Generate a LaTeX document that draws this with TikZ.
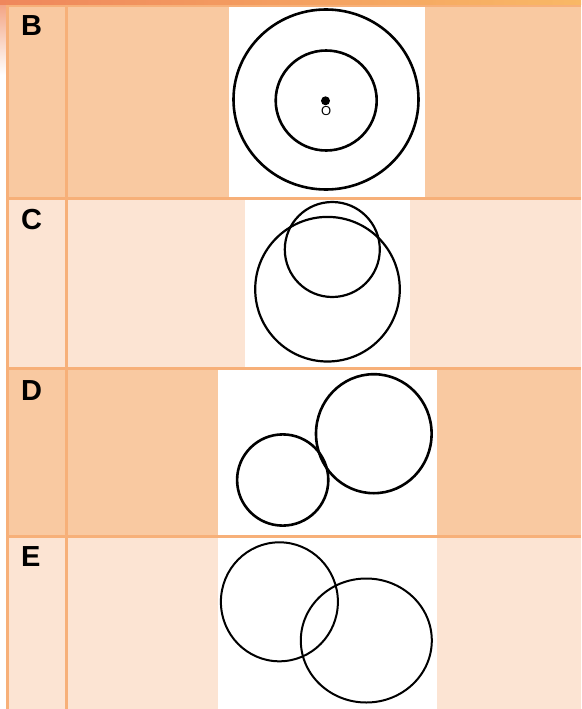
\documentclass[tikz,border=0pt]{standalone}
\usepackage{fontspec}
\setmainfont{Liberation Sans}
\definecolor{rowdark}{HTML}{F9C9A1}
\definecolor{rowlight}{HTML}{FCE4D3}
\definecolor{gridline}{HTML}{F7B079}
\definecolor{bandL}{HTML}{EF875C}
\definecolor{bandR}{HTML}{F9B866}
\begin{document}
\begin{tikzpicture}[x=1pt,y=-1pt,
  grid/.style={draw=gridline,line width=3pt},
  imgbox/.style={fill=white},
  ring/.style={draw=black,line width=#1},
  rowlabel/.style={anchor=base west,inner sep=0pt,font=\fontsize{29}{29}\selectfont\bfseries}]
\useasboundingbox (0,0) rectangle (581,709);
\fill[white] (0,0) rectangle (581,709);
% left fade strip
\shade[top color=bandL!80, bottom color=white] (0,0) rectangle (6,75);
% row fills
\fill[rowdark] (7,5) rectangle (581,198);
\fill[rowlight] (7,198) rectangle (581,368);
\fill[rowdark] (7,368) rectangle (581,537);
\fill[rowlight] (7,537) rectangle (581,709);
% image boxes
\fill[imgbox] (229,7) rectangle (425,197);
\fill[imgbox] (245,200) rectangle (410,367);
\fill[imgbox] (218,370) rectangle (437,535);
\fill[imgbox] (218,538) rectangle (437,709);
% grid
\draw[grid] (7.5,5) -- (7.5,709);
\draw[grid] (66.5,5) -- (66.5,709);
\draw[grid] (6,5.5) -- (581,5.5);
\draw[grid] (6,198.3) -- (581,198.3);
\draw[grid] (6,368.3) -- (581,368.3);
\draw[grid] (6,536.5) -- (581,536.5);
% top band
\shade[left color=bandL, right color=bandR] (0,0) rectangle (581,4.2);
% labels
\node[rowlabel] (lb) at (21,35.7) {B};
\node[rowlabel] (lc) at (21,229.5) {C};
\node[rowlabel] (ld) at (21,400) {D};
\node[rowlabel] (le) at (21,566.5) {E};
% B: concentric circles
\draw[ring=2.6pt] (326,99.5) ellipse [x radius=92.5pt, y radius=90pt];
\draw[ring=2.6pt] (326.2,100.5) ellipse [x radius=50.5pt, y radius=50pt];
\fill[black] (325.5,100.8) circle [radius=4.5pt];
\node[inner sep=0pt,text=black,font=\fontsize{13}{13}\selectfont] (o) at (326.3,111.3) {O};
% C
\draw[ring=2.2pt] (332.3,249.5) circle [radius=47.5pt];
\draw[ring=2.2pt] (327.5,289.2) circle [radius=72.3pt];
% D
\draw[ring=2.6pt] (282.7,480) circle [radius=45.6pt];
\draw[ring=2.6pt] (373.8,433.7) ellipse [x radius=57.8pt, y radius=59.5pt];
% E
\draw[ring=2pt] (279.4,601.8) ellipse [x radius=58.5pt, y radius=59.5pt];
\draw[ring=2pt] (366.3,640.5) ellipse [x radius=65.5pt, y radius=62pt];
\end{tikzpicture}
\end{document}
